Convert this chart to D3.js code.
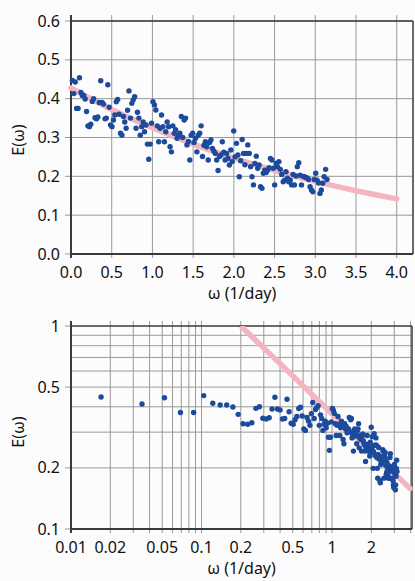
<!DOCTYPE html>
<html>
<head>
<meta charset="UTF-8">
<title>E(omega)</title>
<script src="https://d3js.org/d3.v7.min.js"></script>
<style>
  body { margin: 0; background: #fcfcfc; }
  svg text { font-family: "Noto Sans", sans-serif; fill: #111; }
</style>
</head>
<body>
<svg id="chart" width="415" height="581"></svg>
<script>
// frequency samples (1/day) and energy
const omega = [
  0.017,0.035,0.052,0.069,0.087,0.104,0.122,0.139,0.156,0.174,
  0.191,0.208,0.226,0.243,0.261,0.278,0.295,0.313,0.330,0.347,
  0.365,0.382,0.400,0.417,0.434,0.452,0.469,0.486,0.504,0.521,
  0.538,0.556,0.573,0.591,0.608,0.625,0.643,0.660,0.677,0.695,
  0.712,0.730,0.747,0.764,0.782,0.799,0.816,0.834,0.851,0.869,
  0.886,0.903,0.921,0.938,0.955,0.973,0.990,1.007,1.025,1.042,
  1.059,1.077,1.094,1.112,1.129,1.147,1.164,1.181,1.199,1.216,
  1.233,1.251,1.268,1.285,1.303,1.320,1.337,1.355,1.372,1.390,
  1.407,1.424,1.442,1.459,1.476,1.494,1.511,1.529,1.546,1.563,
  1.581,1.598,1.615,1.633,1.650,1.667,1.685,1.702,1.719,1.737,
  1.754,1.772,1.789,1.806,1.824,1.841,1.858,1.876,1.893,1.911,
  1.928,1.945,1.963,1.980,1.998,2.015,2.032,2.050,2.067,2.084,
  2.102,2.119,2.136,2.154,2.171,2.189,2.206,2.223,2.241,2.258,
  2.275,2.293,2.310,2.328,2.345,2.362,2.380,2.397,2.414,2.432,
  2.449,2.467,2.484,2.501,2.519,2.536,2.553,2.571,2.588,2.606,
  2.623,2.640,2.658,2.675,2.692,2.710,2.727,2.744,2.762,2.779,
  2.797,2.814,2.831,2.849,2.866,2.883,2.901,2.918,2.936,2.953,
  2.970,2.988,3.005,3.022,3.040,3.057,3.074,3.092,3.109,3.127,3.144
];
const energy = [
  0.447,0.413,0.443,0.375,0.375,0.454,0.416,0.408,0.408,0.399,
  0.367,0.330,0.328,0.334,0.393,0.400,0.351,0.348,0.353,0.390,
  0.446,0.390,0.386,0.348,0.350,0.436,0.378,0.332,0.328,0.345,
  0.358,0.392,0.398,0.360,0.311,0.306,0.354,0.340,0.324,0.370,
  0.420,0.350,0.388,0.397,0.405,0.324,0.365,0.350,0.306,0.328,
  0.340,0.315,0.332,0.283,0.244,0.283,0.337,0.392,0.384,0.371,
  0.330,0.289,0.324,0.358,0.328,0.289,0.315,0.340,0.328,0.276,
  0.263,0.330,0.311,0.320,0.298,0.306,0.311,0.354,0.300,0.345,
  0.350,0.281,0.290,0.242,0.306,0.311,0.287,0.298,0.263,0.306,
  0.311,0.330,0.251,0.280,0.289,0.276,0.242,0.287,0.294,0.272,
  0.265,0.259,0.242,0.215,0.251,0.255,0.289,0.262,0.242,0.259,
  0.246,0.229,0.268,0.238,0.317,0.250,0.285,0.255,0.199,0.240,
  0.295,0.259,0.230,0.259,0.281,0.259,0.225,0.199,0.178,0.233,
  0.252,0.221,0.229,0.173,0.169,0.208,0.216,0.210,0.216,0.222,
  0.246,0.242,0.221,0.178,0.233,0.225,0.238,0.218,0.205,0.186,
  0.190,0.212,0.195,0.186,0.190,0.178,0.205,0.178,0.201,0.225,
  0.235,0.203,0.178,0.200,0.199,0.197,0.196,0.192,0.173,0.165,
  0.160,0.192,0.208,0.190,0.183,0.156,0.165,0.182,0.199,0.218,0.192
];

// fitted curves (pink)
const fitOmega = [0, 0.5, 1.0, 1.5, 2.0, 2.5, 3.0, 3.5, 4.0];
const fitEnergy = [0.428, 0.372, 0.325, 0.283, 0.247, 0.215, 0.187, 0.163, 0.142];
const powOmega = [0.2, 0.5, 1, 2, 4.1];
const powEnergy = [1.0, 0.568, 0.370, 0.2415, 0.155];

// ticks
const linTicksX = [0, 0.5, 1.0, 1.5, 2.0, 2.5, 3.0, 3.5, 4.0];
const linTicksY = [0, 0.1, 0.2, 0.3, 0.4, 0.5, 0.6];
const logLabelsX = [0.01, 0.02, 0.05, 0.1, 0.2, 0.5, 1, 2];
const logGridX = [0.02,0.03,0.04,0.05,0.06,0.07,0.08,0.09,0.1,0.2,0.3,0.4,0.5,0.6,0.7,0.8,0.9,1,2,3,4];
const logLabelsY = [0.1, 0.2, 0.5, 1];
const logGridY = [0.2,0.3,0.4,0.5,0.6,0.7,0.8,0.9];

const svg = d3.select('#chart');
const pts = omega.map((w, i) => ({ w: w, e: energy[i] }));
const dotColor = '#1c4a9c';
const pink = '#f3b6c0';
const gridColor = '#9a9a9a';
const axisColor = '#3a3a3a';

function drawPanel(g, x, y, opts) {
  const [x0, x1] = x.range();
  const [y0, y1] = y.range(); // y0 bottom, y1 top

  // vertical gridlines (stick out a little top and bottom)
  g.selectAll('.vgrid').data(opts.gridX).join('line')
    .attr('x1', d => x(d)).attr('x2', d => x(d))
    .attr('y1', y1 - opts.ext).attr('y2', y0 + 4)
    .attr('stroke', gridColor).attr('stroke-width', 1);

  g.selectAll('.hgrid').data(opts.gridY).join('line')
    .attr('x1', x0).attr('x2', x1)
    .attr('y1', d => y(d)).attr('y2', d => y(d))
    .attr('stroke', gridColor).attr('stroke-width', 1);

  // left tick marks at labelled values
  g.selectAll('.ltick').data(opts.labelsY).join('line')
    .attr('x1', x0 - 6).attr('x2', x0)
    .attr('y1', d => y(d)).attr('y2', d => y(d))
    .attr('stroke', gridColor).attr('stroke-width', 1);

  // frame
  g.append('line').attr('x1', x0).attr('x2', x1).attr('y1', y1).attr('y2', y1)
    .attr('stroke', axisColor).attr('stroke-width', 1.5);
  g.append('line').attr('x1', x1).attr('x2', x1).attr('y1', y1).attr('y2', y0)
    .attr('stroke', axisColor).attr('stroke-width', 1.5);
  g.append('line').attr('x1', x0).attr('x2', x1).attr('y1', y0).attr('y2', y0)
    .attr('stroke', axisColor).attr('stroke-width', 2);
  g.append('line').attr('x1', x0).attr('x2', x0).attr('y1', y1 - opts.ext).attr('y2', y0 + 4)
    .attr('stroke', axisColor).attr('stroke-width', 2);

  // tick labels
  g.selectAll('.xl').data(opts.labelsX).join('text')
    .attr('x', d => x(d)).attr('y', y0 + 24)
    .attr('text-anchor', 'middle').attr('font-size', 16)
    .text(opts.fmtX);
  g.selectAll('.yl').data(opts.labelsY).join('text')
    .attr('x', x0 - 11).attr('y', d => y(d) + 5.5)
    .attr('text-anchor', 'end').attr('font-size', 16)
    .text(opts.fmtY);

  // axis titles
  g.append('text').attr('x', (x0 + x1) / 2).attr('y', y0 + 45)
    .attr('text-anchor', 'middle').attr('font-size', 16).text('ω (1/day)');
  g.append('text')
    .attr('transform', `translate(24,${opts.yTitle}) rotate(-90)`)
    .attr('text-anchor', 'middle').attr('font-size', 16).text('E(ω)');
}

// ---- top panel: linear axes ----
const xLin = d3.scaleLinear().domain([0, 4.2]).range([71, 413]);
const yLin = d3.scaleLinear().domain([0, 0.6]).range([254, 21]);
const linPanel = svg.append('g');
drawPanel(linPanel, xLin, yLin, {
  gridX: linTicksX, gridY: linTicksY.slice(1), labelsX: linTicksX, labelsY: linTicksY,
  fmtX: d3.format('.1f'), fmtY: d3.format('.1f'), ext: 6, yTitle: 140
});
linPanel.append('path')
  .datum(fitOmega.map((w, i) => [w, fitEnergy[i]]))
  .attr('d', d3.line().x(d => xLin(d[0])).y(d => yLin(d[1])).curve(d3.curveMonotoneX))
  .attr('fill', 'none').attr('stroke', pink).attr('stroke-width', 5.5).attr('stroke-linecap', 'round');
linPanel.selectAll('circle').data(pts).join('circle')
  .attr('cx', d => xLin(d.w)).attr('cy', d => yLin(d.e)).attr('r', 2.7)
  .attr('fill', dotColor);

// ---- bottom panel: log-log axes ----
const xLog = d3.scaleLog().domain([0.01, 4.1]).range([71, 412]);
const yLog = d3.scaleLog().domain([0.1, 1]).range([529, 326]);
const logPanel = svg.append('g');
drawPanel(logPanel, xLog, yLog, {
  gridX: logGridX, gridY: logGridY, labelsX: logLabelsX, labelsY: logLabelsY,
  fmtX: d => String(d), fmtY: d => String(d), ext: 5, yTitle: 432
});
const clip = logPanel.append('clipPath').attr('id', 'clipLog');
clip.append('rect').attr('x', 71).attr('y', 326).attr('width', 344).attr('height', 203);
logPanel.append('path')
  .datum(powOmega.map((w, i) => [w, powEnergy[i]]))
  .attr('d', d3.line().x(d => xLog(d[0])).y(d => yLog(d[1])))
  .attr('clip-path', 'url(#clipLog)')
  .attr('fill', 'none').attr('stroke', pink).attr('stroke-width', 5.5);
logPanel.selectAll('circle').data(pts).join('circle')
  .attr('cx', d => xLog(d.w)).attr('cy', d => yLog(d.e)).attr('r', 2.7)
  .attr('fill', dotColor);
</script>
</body>
</html>
